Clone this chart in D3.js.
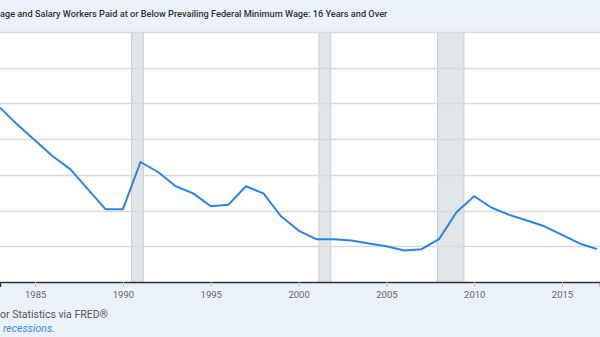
<!DOCTYPE html>
<html>
<head>
<meta charset="utf-8">
<script src="https://cdn.jsdelivr.net/npm/d3@7"></script>
<style>
  html, body { margin: 0; padding: 0; background: #eaf1f9; }
  svg { display: block; font-family: Roboto, "Noto Sans", sans-serif; }
</style>
</head>
<body>
<svg id="chart" width="600" height="337"></svg>
<script>
// ---- data ----
const years = [1983,1984,1985,1986,1987,1988,1989,1990,1991,1992,1993,1994,1995,1996,1997,1998,1999,2000,
               2001,2002,2003,2004,2005,2006,2007,2008,2009,2010,2011,2012,2013,2014,2015,2016,2017];
const percentAtOrBelowMin = [12.2,11.0,9.9,8.8,7.9,6.5,5.1,5.1,8.4,7.7,6.7,6.2,5.3,5.4,6.7,6.2,4.6,3.6,
               3.0,3.0,2.9,2.7,2.5,2.2,2.3,3.0,4.9,6.0,5.2,4.7,4.3,3.9,3.3,2.7,2.3];
const recessionStarts = ["1990-07-01","2001-03-01","2007-12-01"];
const recessionEnds   = ["1991-03-01","2001-11-01","2009-06-01"];
const tickYears = [1985,1990,1995,2000,2005,2010,2015];
const gridValues = [0,2.5,5,7.5,10,12.5,15,17.5];
const titleText = "age and Salary Workers Paid at or Below Prevailing Federal Minimum Wage: 16 Years and Over";
const sourceText = "or Statistics via FRED®";
const noteText = "recessions.";

// ---- layout ----
const W = 600, H = 337;
const plotTop = 32, plotBottom = 282, plotLeft = 0, plotRight = 600;
const svg = d3.select("#chart");

const x = d3.scaleTime()
  .domain([new Date(1983,0,1), new Date(2017,2,1)])
  .range([plotLeft, plotRight]);
const y = d3.scaleLinear().domain([0,17.5]).range([plotBottom, plotTop]);

svg.append("rect").attr("x",0).attr("y",0).attr("width",W).attr("height",H).attr("fill","#eaf1f9");
svg.append("rect").attr("x",plotLeft).attr("y",plotTop).attr("width",plotRight-plotLeft)
  .attr("height",plotBottom-plotTop).attr("fill","#ffffff");

// recessions
const parse = d3.timeParse("%Y-%m-%d");
const rec = recessionStarts.map((s,i)=>({s:parse(s), e:parse(recessionEnds[i])}));
const rg = svg.append("g");
rg.selectAll("rect").data(rec).join("rect")
  .attr("x", d=>x(d.s)).attr("y", plotTop)
  .attr("width", d=>x(d.e)-x(d.s)).attr("height", plotBottom-plotTop)
  .attr("fill","#e1e6eb");
rg.selectAll("line.l").data(rec).join("line").attr("class","l")
  .attr("x1", d=>x(d.s)).attr("x2", d=>x(d.s)).attr("y1",plotTop).attr("y2",plotBottom)
  .attr("stroke","#c9cdd1").attr("stroke-width",1);
rg.selectAll("line.r").data(rec).join("line").attr("class","r")
  .attr("x1", d=>x(d.e)).attr("x2", d=>x(d.e)).attr("y1",plotTop).attr("y2",plotBottom)
  .attr("stroke","#c9cdd1").attr("stroke-width",1);

// gridlines
svg.append("g").selectAll("line").data(gridValues.filter(v=>v>0)).join("line")
  .attr("x1",plotLeft).attr("x2",plotRight)
  .attr("y1", d=>Math.round(y(d))+0.5).attr("y2", d=>Math.round(y(d))+0.5)
  .attr("stroke","#d9d9d9").attr("stroke-width",1.5);

// x axis
const xAxis = d3.axisBottom(x)
  .tickValues(tickYears.map(yr=>new Date(yr,0,1)))
  .tickFormat(d3.timeFormat("%Y"))
  .tickSize(5).tickPadding(4);
const ax = svg.append("g").attr("transform",`translate(0,${plotBottom})`).call(xAxis);
ax.select(".domain").attr("stroke","#333").attr("stroke-width",1.5);
ax.selectAll(".tick line").attr("stroke","#cccccc");
ax.selectAll(".tick text").attr("fill","#666").attr("font-size",9.5)
  .attr("font-family","Roboto, sans-serif");

// line
const line = d3.line()
  .x((d,i)=>x(new Date(years[i],0,1)))
  .y(d=>y(d));
svg.append("path").datum(percentAtOrBelowMin)
  .attr("d", line).attr("fill","none")
  .attr("stroke","#2a84e2").attr("stroke-width",2).attr("stroke-linejoin","round");

// texts
svg.append("text").attr("x",0).attr("y",17).text(titleText)
  .attr("font-size",9.2).attr("font-weight",500).attr("fill","#333");
svg.append("text").attr("x",0).attr("y",318).text(sourceText)
  .attr("font-size",10.5).attr("fill","#555");
svg.append("text").attr("x",3).attr("y",332).text(noteText)
  .attr("font-size",10.5).attr("font-style","italic").attr("fill","#3b8ce0");
</script>
</body>
</html>
